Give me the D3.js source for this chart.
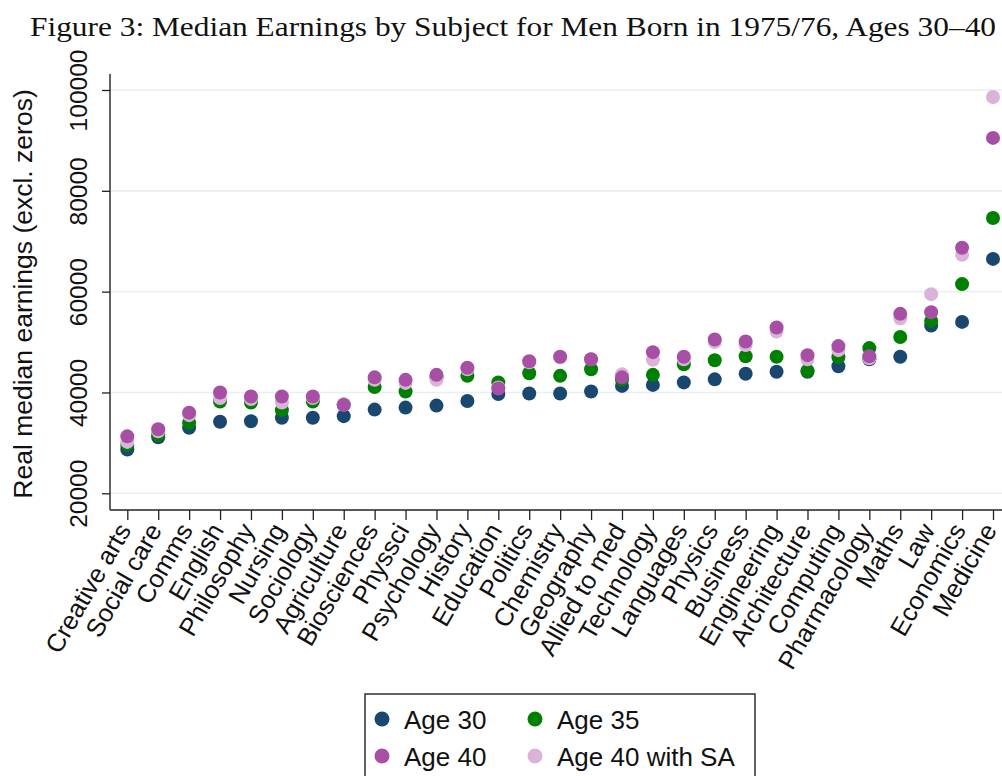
<!DOCTYPE html>
<html>
<head>
<meta charset="utf-8">
<script src="https://cdn.jsdelivr.net/npm/d3@7"></script>
<style>
  html, body { margin: 0; padding: 0; background: #fff; }
  svg { display: block; }
</style>
</head>
<body>
<script>
const categories = ["Creative arts","Social care","Comms","English","Philosophy","Nursing","Sociology","Agriculture","Biosciences","Physsci","Psychology","History","Education","Politics","Chemistry","Geography","Allied to med","Technology","Languages","Physics","Business","Engineering","Architecture","Computing","Pharmacology","Maths","Law","Economics","Medicine"];
const age30   = [28700,31100,33000,34200,34300,35000,35000,35300,36600,37000,37400,38300,39700,39800,39800,40200,41300,41500,42000,42600,43700,44100,44100,45200,46600,47100,53300,54000,66500];
const age35   = [29600,31600,34000,38200,38000,36500,38200,37600,41100,40200,43000,43300,42000,43800,43300,44600,42500,43500,45600,46400,47200,47100,44300,47000,48800,51000,54200,61500,74600];
const age40   = [31300,32700,36000,40000,39200,39200,39200,37500,43000,42500,43500,44900,40800,46200,47100,46600,43000,48000,47100,50500,50100,52900,47400,49200,47200,55600,55900,68700,90500];
const age40SA = [30200,32300,35500,38900,38700,38000,38900,37600,42500,41900,42500,44600,41000,46000,47000,46600,43600,46500,46600,50000,49400,52100,46600,48400,46800,54700,59500,67300,98600];
const yTicks = [20000,40000,60000,80000,100000];
const seriesNames = ["Age 30","Age 35","Age 40","Age 40 with SA"];
const titleText = "Figure 3: Median Earnings by Subject for Men Born in 1975/76, Ages 30\u201340";
const yTitle = "Real median earnings (excl. zeros)";

const W = 1002, H = 776;
const colors = {"Age 30":"#1a476f","Age 35":"#008000","Age 40":"#a64fa4","Age 40 with SA":"#dbb2da"};
const sans = "'Liberation Sans', Arial, Helvetica, sans-serif";

const svg = d3.select("body").append("svg").attr("width", W).attr("height", H);

const x = d3.scalePoint().domain(categories).range([127.3, 993]);
const y = d3.scaleLinear().domain([20000, 100000]).range([493.3, 90]);

const axisLeftX = 110, plotTop = 74, plotBottom = 510;

// gridlines
svg.append("g").selectAll("line").data(yTicks).join("line")
  .attr("x1", axisLeftX).attr("x2", W)
  .attr("y1", d => y(d)).attr("y2", d => y(d))
  .attr("stroke", "#e7eff1").attr("stroke-width", 1.6);

// title
svg.append("text")
  .attr("x", 30).attr("y", 36)
  .attr("font-family", "'Liberation Serif', 'Times New Roman', serif")
  .attr("font-size", 27).attr("fill", "#111")
  .attr("textLength", 966).attr("lengthAdjust", "spacingAndGlyphs")
  .text(titleText);

// y axis
const yAxis = svg.append("g").attr("transform", `translate(${axisLeftX},0)`)
  .call(d3.axisLeft(y).tickValues(yTicks).tickFormat(d3.format("d")).tickSize(8).tickPadding(0));
yAxis.select(".domain").remove();
yAxis.selectAll(".tick line").attr("stroke", "#222").attr("stroke-width", 1.3);
yAxis.selectAll(".tick text")
  .attr("x", 0).attr("dy", 0)
  .attr("transform", "translate(-23,0) rotate(-90)")
  .attr("text-anchor", "middle")
  .attr("font-family", sans).attr("font-size", 24.5).attr("fill", "#111");

svg.append("line").attr("x1", axisLeftX).attr("x2", axisLeftX)
  .attr("y1", plotTop).attr("y2", plotBottom).attr("stroke", "#222").attr("stroke-width", 1.4);

// x axis
const xAxis = svg.append("g").attr("transform", `translate(0,${plotBottom})`)
  .call(d3.axisBottom(x).tickSize(10).tickPadding(0));
xAxis.select(".domain").remove();
xAxis.selectAll(".tick line").attr("stroke", "#222").attr("stroke-width", 1.3);
xAxis.selectAll(".tick text")
  .attr("y", 0).attr("dy", 0)
  .attr("transform", "translate(4,20) rotate(-60)")
  .attr("text-anchor", "end")
  .attr("font-family", sans).attr("font-size", 25.5).attr("fill", "#111");
svg.append("line").attr("x1", axisLeftX).attr("x2", W)
  .attr("y1", plotBottom).attr("y2", plotBottom).attr("stroke", "#222").attr("stroke-width", 1.4);

// y title
svg.append("text")
  .attr("transform", `translate(32,${(plotTop+plotBottom)/2 + 2}) rotate(-90)`)
  .attr("text-anchor", "middle")
  .attr("font-family", sans).attr("font-size", 26.5).attr("fill", "#111")
  .text(yTitle);

// points (draw order: Age 30, Age 35, Age 40 with SA, Age 40)
const seriesData = {"Age 30": age30, "Age 35": age35, "Age 40": age40, "Age 40 with SA": age40SA};
const drawOrder = ["Age 30","Age 35","Age 40 with SA","Age 40"];
drawOrder.forEach(name => {
  svg.append("g").selectAll("circle")
    .data(categories.map((c, i) => ({c, v: seriesData[name][i]})))
    .join("circle")
    .attr("cx", d => x(d.c)).attr("cy", d => y(d.v)).attr("r", 7)
    .attr("fill", colors[name]);
});

// legend
const lg = svg.append("g");
lg.append("rect").attr("x", 365).attr("y", 694).attr("width", 390).attr("height", 100)
  .attr("fill", "#fff").attr("stroke", "#222").attr("stroke-width", 1.4);
const legendPos = [
  {name: seriesNames[0], cx: 382, cy: 719},
  {name: seriesNames[1], cx: 535, cy: 719},
  {name: seriesNames[2], cx: 382, cy: 756},
  {name: seriesNames[3], cx: 535, cy: 756}
];
legendPos.forEach(p => {
  lg.append("circle").attr("cx", p.cx).attr("cy", p.cy).attr("r", 7.5).attr("fill", colors[p.name]);
  lg.append("text").attr("x", p.cx + 22).attr("y", p.cy + 9.5)
    .attr("font-family", sans).attr("font-size", 26).attr("fill", "#111").text(p.name);
});
</script>
</body>
</html>
